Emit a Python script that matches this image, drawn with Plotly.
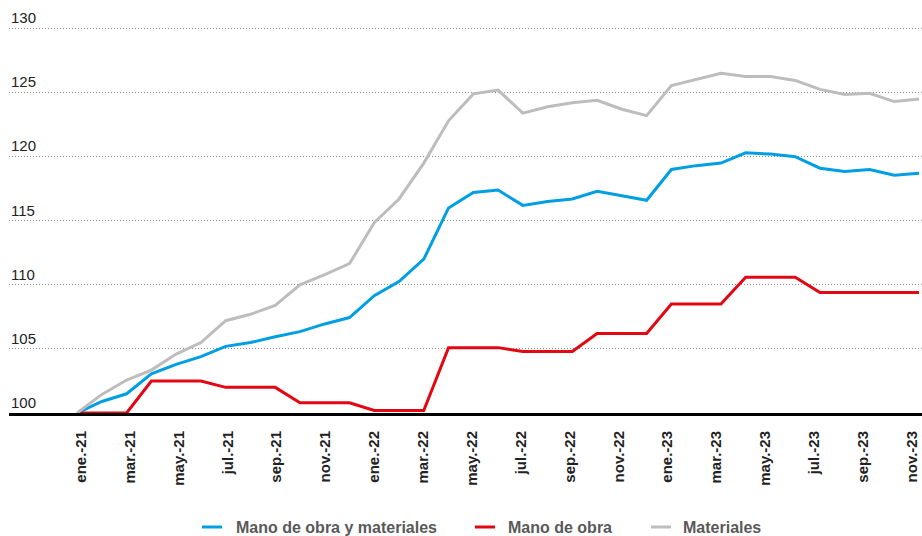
import plotly.graph_objects as go

months = ["ene.-21", "feb.-21", "mar.-21", "abr.-21", "may.-21", "jun.-21", "jul.-21", "ago.-21",
          "sep.-21", "oct.-21", "nov.-21", "dic.-21",
          "ene.-22", "feb.-22", "mar.-22", "abr.-22", "may.-22", "jun.-22", "jul.-22", "ago.-22",
          "sep.-22", "oct.-22", "nov.-22", "dic.-22",
          "ene.-23", "feb.-23", "mar.-23", "abr.-23", "may.-23", "jun.-23", "jul.-23", "ago.-23",
          "sep.-23", "oct.-23", "nov.-23"]

mano_obra_materiales = [100.0, 100.9, 101.5, 103.05, 103.8, 104.4, 105.2, 105.5, 105.95, 106.35,
                        106.95, 107.45, 109.15, 110.25, 112.0, 116.0, 117.2, 117.4, 116.2, 116.5,
                        116.7, 117.3, 116.95, 116.6, 119.0, 119.3, 119.5, 120.3, 120.2, 120.0,
                        119.1, 118.85, 119.0, 118.55, 118.7]

mano_obra = [100.0, 100.0, 100.0, 102.5, 102.5, 102.5, 102.0, 102.0, 102.0, 100.8,
             100.8, 100.8, 100.2, 100.2, 100.2, 105.1, 105.1, 105.1, 104.8, 104.8,
             104.8, 106.2, 106.2, 106.2, 108.5, 108.5, 108.5, 110.6, 110.6, 110.6,
             109.4, 109.4, 109.4, 109.4, 109.4]

materiales = [100.0, 101.45, 102.57, 103.35, 104.6, 105.5, 107.2, 107.7, 108.4, 110.0,
              110.8, 111.65, 114.85, 116.7, 119.5, 122.8, 124.9, 125.2, 123.4, 123.9,
              124.2, 124.4, 123.7, 123.2, 125.55, 126.05, 126.5, 126.25, 126.25, 125.95,
              125.25, 124.85, 124.95, 124.3, 124.5]

y_ticks = [100, 105, 110, 115, 120, 125, 130]

series_names = ["Mano de obra y materiales", "Mano de obra", "Materiales"]
series_colors = ["#009fe3", "#e30613", "#bdbdbd"]

x = list(range(len(months)))
tick_idx = x[::2]
tick_text = [months[i] for i in tick_idx]

W, H = 922, 536
ML, MR, MT, MB = 9, 0, 8, 123
plot_w = W - ML - MR
plot_h = H - MT - MB

fig = go.Figure()
for name, vals, col in zip(series_names, [mano_obra_materiales, mano_obra, materiales], series_colors):
    fig.add_trace(go.Scatter(x=x, y=vals, mode="lines", name=name, showlegend=False,
                             line=dict(color=col, width=3)))

# invisible helper trace so that the label axis (xaxis2) is drawn
fig.add_trace(go.Scatter(x=x, y=mano_obra, xaxis="x2", mode="lines", opacity=0,
                         showlegend=False, hoverinfo="skip", line=dict(width=0)))

# manual legend (pixel layout -> paper coords)
def px_x(p):
    return (p - ML) / plot_w

def px_y(p):
    return (H - MB - p) / plot_h

legend_y = 527
legend_items = [(202, 234), (475, 506), (651, 681)]
for (lx, tx), name, col in zip(legend_items, series_names, series_colors):
    fig.add_shape(type="line", xref="paper", yref="paper",
                  x0=px_x(lx), x1=px_x(lx + 20), y0=px_y(legend_y), y1=px_y(legend_y),
                  line=dict(color=col, width=3))
    fig.add_annotation(xref="paper", yref="paper", x=px_x(tx), y=px_y(legend_y),
                       xanchor="left", yanchor="middle", showarrow=False, text=name,
                       font=dict(size=16, color="#595959", weight="bold"))

fig.update_layout(
    width=W, height=H,
    margin=dict(l=ML, r=MR, t=MT, b=MB),
    plot_bgcolor="white", paper_bgcolor="white",
    font=dict(family="Liberation Sans, Arial, sans-serif", color="#222"),
    showlegend=False,
    xaxis=dict(range=[-2.75, 34.12], showticklabels=False,
               showgrid=False, zeroline=False, showline=True, linecolor="black", linewidth=3,
               ticks="", automargin=False),
    xaxis2=dict(range=[-2.946, 34.41], overlaying="x", anchor="y", side="bottom",
                tickmode="array", tickvals=tick_idx, ticktext=tick_text,
                tickangle=-90, tickfont=dict(size=15, color="#222", weight="bold"),
                showgrid=False, zeroline=False, showline=False, ticks="",
                ticklabelstandoff=14, automargin=False),
    yaxis=dict(range=[100, 131.6], tickmode="array", tickvals=y_ticks,
               ticklabelposition="inside top", tickfont=dict(size=15, color="#222"),
               ticklabelstandoff=-1,
               showgrid=True, gridcolor="#8c8c8c", griddash="1px,2px", gridwidth=1,
               zeroline=False, showline=False, ticks="", automargin=False),
)

fig.write_html("out.html", config={"displayModeBar": False},
               post_script="document.body.style.margin='0';document.body.style.padding='0';")
